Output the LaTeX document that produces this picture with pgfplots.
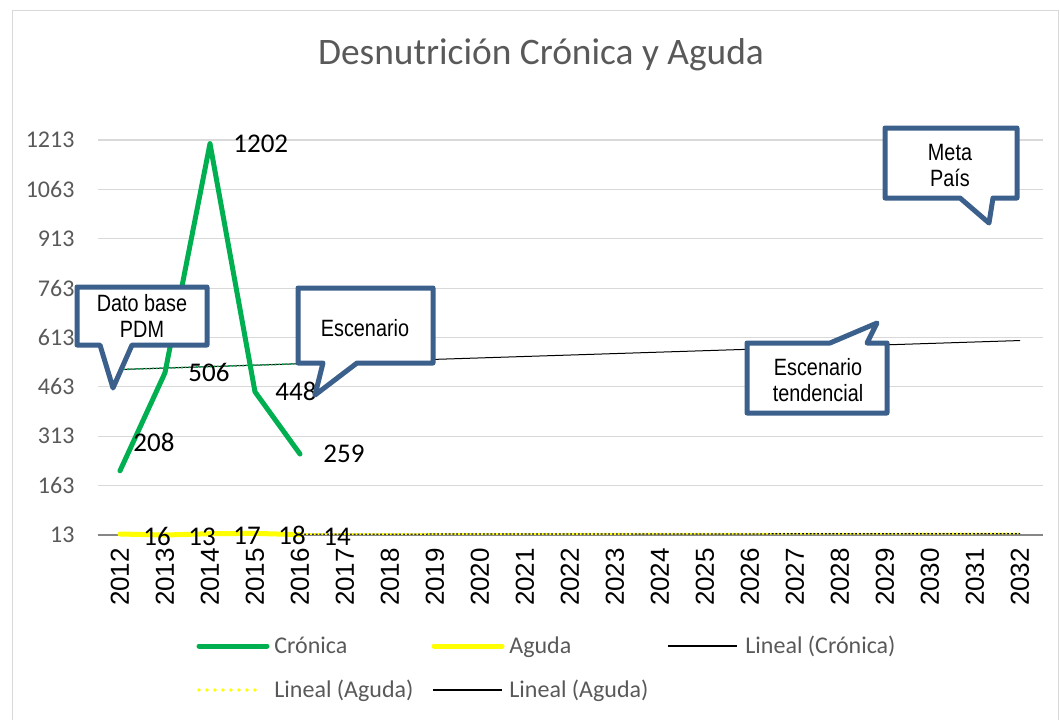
\documentclass[border=0pt]{standalone}
\usepackage{pgfplots}
\pgfplotsset{compat=1.18}
\usepackage{fontspec}
\setmainfont{Carlito}
\newfontfamily\arialf{Liberation Sans}
\newfontfamily\arialn[FakeStretch=0.84]{Liberation Sans}

\definecolor{cgreen}{RGB}{0,176,80}
\definecolor{cyellow}{RGB}{255,255,0}
\definecolor{ctxt}{RGB}{89,89,89}
\definecolor{cgrid}{RGB}{217,217,217}
\definecolor{caxis}{RGB}{134,134,134}
\definecolor{cbox}{RGB}{60,96,140}

\begin{document}
\begin{tikzpicture}[x=0.5pt, y=-0.5pt]
% page = 1060 x 719 px, 1 px = 0.5pt, y runs downward
\useasboundingbox (0,0) rectangle (1060,719);
\draw[cgrid, line width=0.6pt] (12.5,725) -- (12.5,10.5) -- (1058.5,10.5) -- (1058.5,725);

\node[ctxt, font=\fontsize{18.7}{21}\selectfont] at (541,55) {Desnutrición Crónica y Aguda};

\begin{axis}[
    at={(48.75pt,-267.5pt)}, anchor=south west,
    scale only axis, width=472.5pt, height=197.5pt,
    xmin=2011.5, xmax=2032.5, ymin=13, ymax=1213,
    xtick={2012,...,2032},
    ytick={13,163,313,463,613,763,913,1063,1213},
    axis line style={draw=none},
    major tick length=0pt,
    ymajorgrids, grid style={cgrid, line width=0.6pt},
    /pgf/number format/1000 sep={},
    /pgf/number format/assume math mode=true,
    x tick label style={rotate=90, anchor=east, font=\arialf\fontsize{13}{13}\selectfont, text=black, xshift=-3pt},
    y tick label style={font=\fontsize{12}{13}\selectfont, text=ctxt, xshift=-8pt},
    clip=false,
]
% x axis line
\draw[caxis, line width=0.8pt] (axis cs:2011.5,13) -- (axis cs:2032.5,13);

% trend lines
\addplot[black, line width=0.5pt] coordinates {(2012,515.8) (2032,603.8)};
\addplot[cgreen, line width=0.8pt, densely dotted] coordinates {(2012,515.8) (2016,533.4)};
\addplot[black, line width=0.5pt] coordinates {(2012,15.4) (2032,17.4)};
\addplot[cyellow, line width=0.9pt, densely dotted] coordinates {(2012,15.4) (2032,17.4)};

% series
\addplot[cgreen, line width=2.5pt, line cap=round, line join=round] coordinates {
    (2012,208) (2013,506) (2014,1202) (2015,448) (2016,259)};
\addplot[cyellow, line width=2.5pt, line cap=round, line join=round] coordinates {
    (2012,16) (2013,13) (2014,17) (2015,18) (2016,14)};

% data labels
\begin{scope}[every node/.style={font=\fontsize{13.5}{15}\selectfont, inner sep=0pt}]
\node[anchor=west, xshift=6.5pt, yshift=14pt] at (axis cs:2012,208) {208};
\node[anchor=west, xshift=11.5pt] at (axis cs:2013,506) {506};
\node[anchor=west, xshift=11.5pt] at (axis cs:2014,1202) {1202};
\node[anchor=west, xshift=10pt] at (axis cs:2015,448) {448};
\node[anchor=west, xshift=11.5pt] at (axis cs:2016,259) {259};
\node[xshift=18.5pt, yshift=-1pt] at (axis cs:2012,16) {16};
\node[xshift=18.5pt, yshift=-1pt] at (axis cs:2013,13) {13};
\node[xshift=18.5pt, yshift=-1pt] at (axis cs:2014,17) {17};
\node[xshift=18.5pt, yshift=-1pt] at (axis cs:2015,18) {18};
\node[xshift=18.5pt, yshift=-1pt] at (axis cs:2016,14) {14};
\end{scope}
\end{axis}

% callouts
\begin{scope}[draw=cbox, line width=2.5pt, line join=round, fill=white]
\filldraw (77,287) -- (207,287) -- (207,345) -- (132,345) -- (113,388) -- (100,345) -- (77,345) -- cycle;
\filldraw (298,288) -- (433,288) -- (433,363) -- (357,363) -- (315,395) -- (323,363) -- (298,363) -- cycle;
\filldraw (747,343) -- (830,343) -- (877,323) -- (867,343) -- (887,343) -- (887,413) -- (747,413) -- cycle;
\filldraw (885,128) -- (1017,128) -- (1017,198) -- (993,198) -- (989,223) -- (960,198) -- (885,198) -- cycle;
\end{scope}
\begin{scope}[every node/.style={font=\arialn\fontsize{11.8}{13}\selectfont, align=center, inner sep=0pt}]
\node at (142,316) {Dato base\\PDM};
\node at (365,328) {Escenario};
\node at (818,380) {Escenario\\tendencial};
\node at (950,165) {Meta\\País};
\end{scope}

% legend
\begin{scope}[every node/.style={font=\fontsize{12}{13}\selectfont, text=ctxt, anchor=base west, inner sep=0pt}]
\draw[cgreen, line width=2.5pt, line cap=round] (199,646) -- (267,646);
\node at (274,653) {Crónica};
\draw[cyellow, line width=2.5pt, line cap=round] (434,646) -- (502,646);
\node at (509,653) {Aguda};
\draw[black, line width=0.6pt] (668,646) -- (737,646);
\node at (745,653) {Lineal (Crónica)};
\draw[cyellow, line width=1.8pt, line cap=round, dash pattern=on 0pt off 4pt] (199,690) -- (262,690);
\node at (274,697) {Lineal (Aguda)};
\draw[black, line width=0.6pt] (433,690) -- (502,690);
\node at (509,697) {Lineal (Aguda)};
\end{scope}
\end{tikzpicture}
\end{document}
